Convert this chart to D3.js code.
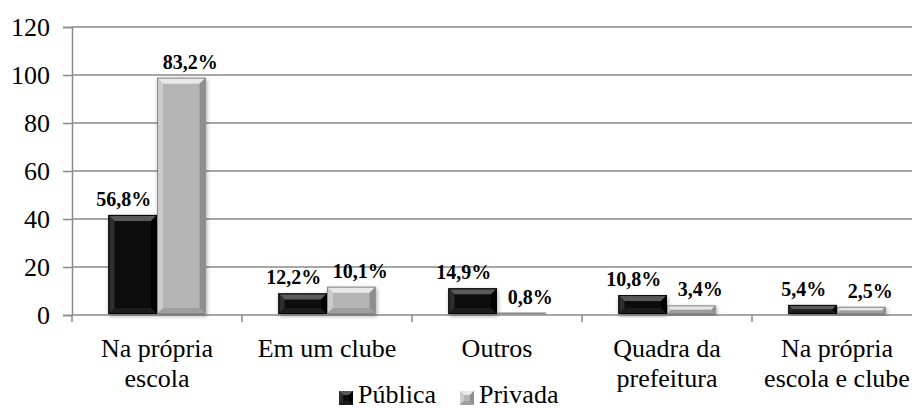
<!DOCTYPE html>
<html>
<head>
<meta charset="utf-8">
<script src="https://cdn.jsdelivr.net/npm/d3@7"></script>
<style>
  body { margin: 0; background: #fff; }
  svg text { font-family: "Liberation Serif", "Times New Roman", Tinos, "DejaVu Serif", serif; fill: #000; }
</style>
</head>
<body>
<div id="chart"></div>
<script>

var svgWidth = 912;
var svgHeight = 408;

// data
var categories = ["Na própria|escola", "Em um clube", "Outros", "Quadra da|prefeitura", "Na própria|escola e clube"];
var seriesNames = ["Pública", "Privada"];
var publicaValues = [41.7, 9.0, 11.1, 8.3, 4.2];
var privadaValues = [98.9, 11.8, 1.0, 4.0, 3.4];
var publicaLabels = ["56,8%", "12,2%", "14,9%", "10,8%", "5,4%"];
var privadaLabels = ["83,2%", "10,1%", "0,8%", "3,4%", "2,5%"];
var yTicks = [0, 20, 40, 60, 80, 100, 120];

var serif = '"Liberation Serif", "Times New Roman", Tinos, "DejaVu Serif", serif';

var margin = { top: 27, left: 72, plotRight: 922, zeroY: 315 };

var svg = d3.select("#chart")
  .append("svg")
  .attr("width", svgWidth)
  .attr("height", svgHeight)
  .attr("font-family", serif);

// bar shadow
var defs = svg.append("defs");
defs.append("filter")
  .attr("id", "shadow")
  .attr("x", "-20%").attr("y", "-20%")
  .attr("width", "140%").attr("height", "140%")
  .append("feDropShadow")
  .attr("dx", 1).attr("dy", 2)
  .attr("stdDeviation", 2)
  .attr("flood-color", "#000")
  .attr("flood-opacity", 0.35);

// colour sets for the bevel look: body, top, left, right, bottom
var styles = {
  "Pública": { body: "#0e0e0e", top: "#5a5a5a", left: "#2e2e2e", right: "#000000", bottom: "#1c1c1c", stroke: "#000" },
  "Privada": { body: "#b4b4b4", top: "#e8e8e8", left: "#cbcbcb", right: "#8e8e8e", bottom: "#9e9e9e", stroke: "#8a8a8a" }
};

var x0 = d3.scaleBand()
  .domain(categories)
  .range([margin.left, margin.plotRight])
  .padding(0);

var x1 = d3.scaleBand()
  .domain(seriesNames)
  .range([0, x0.bandwidth()])
  .paddingInner(0)
  .paddingOuter(0.75);

var y = d3.scaleLinear()
  .domain([0, 120])
  .range([margin.zeroY, margin.top]);

// gridlines
svg.append("g")
  .selectAll("line")
  .data(yTicks)
  .enter()
  .append("line")
  .attr("x1", margin.left)
  .attr("x2", margin.plotRight)
  .attr("y1", d => y(d))
  .attr("y2", d => y(d))
  .attr("stroke", "#8a8a8a")
  .attr("stroke-width", 1.5);

// y axis
var leftAxis = d3.axisLeft(y)
  .tickValues(yTicks)
  .tickSize(9)
  .tickPadding(13);

var yAxis = svg.append("g")
  .attr("transform", `translate(${margin.left}, 0)`)
  .call(leftAxis)
  .attr("font-family", serif)
  .attr("font-size", 26);

yAxis.select(".domain").attr("stroke", "#8a8a8a").attr("stroke-width", 1.5);
yAxis.selectAll(".tick line").attr("stroke", "#8a8a8a").attr("stroke-width", 1.5);
yAxis.selectAll(".tick text")
  .style("font-family", serif)
  .style("font-size", "26px")
  .attr("fill", "#000");

// category tick marks on the x axis
var boundaries = categories.map(c => x0(c)).concat([margin.plotRight]);
svg.append("g")
  .selectAll("line")
  .data(boundaries)
  .enter()
  .append("line")
  .attr("x1", d => d)
  .attr("x2", d => d)
  .attr("y1", margin.zeroY)
  .attr("y2", margin.zeroY + 7)
  .attr("stroke", "#8a8a8a")
  .attr("stroke-width", 1.5);

// bars
var rows = [];
categories.forEach(function(cat, i) {
  rows.push({ cat: cat, series: "Pública", value: publicaValues[i], label: publicaLabels[i] });
  rows.push({ cat: cat, series: "Privada", value: privadaValues[i], label: privadaLabels[i] });
});

var barGroup = svg.append("g");

rows.forEach(function(d) {
  var bx = x0(d.cat) + x1(d.series);
  var bw = x1.bandwidth();
  var by = y(d.value);
  var bh = margin.zeroY - 1 - by;
  var st = styles[d.series];
  var b = Math.min(6, bh / 2, bw / 2);

  var g = barGroup.append("g").attr("filter", "url(#shadow)");

  g.append("rect")
    .attr("x", bx)
    .attr("y", by)
    .attr("width", bw)
    .attr("height", bh)
    .attr("fill", st.body);

  // bevel faces
  var faces = [
    { fill: st.top, pts: [[bx, by], [bx + bw, by], [bx + bw - b, by + b], [bx + b, by + b]] },
    { fill: st.left, pts: [[bx, by], [bx + b, by + b], [bx + b, by + bh - b], [bx, by + bh]] },
    { fill: st.right, pts: [[bx + bw, by], [bx + bw, by + bh], [bx + bw - b, by + bh - b], [bx + bw - b, by + b]] },
    { fill: st.bottom, pts: [[bx, by + bh], [bx + b, by + bh - b], [bx + bw - b, by + bh - b], [bx + bw, by + bh]] }
  ];

  g.selectAll("polygon")
    .data(faces)
    .enter()
    .append("polygon")
    .attr("points", f => f.pts.map(p => p.join(",")).join(" "))
    .attr("fill", f => f.fill);

  g.append("rect")
    .attr("x", bx + 0.5)
    .attr("y", by + 0.5)
    .attr("width", bw - 1)
    .attr("height", Math.max(bh - 1, 0.5))
    .attr("fill", "none")
    .attr("stroke", st.stroke)
    .attr("stroke-width", 1);
});

// data labels, nudged apart like in the original
var labelShift = { "Pública": -9, "Privada": 9 };
svg.append("g")
  .selectAll("text")
  .data(rows)
  .enter()
  .append("text")
  .attr("x", d => x0(d.cat) + x1(d.series) + x1.bandwidth() / 2 + labelShift[d.series])
  .attr("y", d => y(d.value) - 9)
  .attr("text-anchor", "middle")
  .style("font-family", serif)
  .style("font-size", "20px")
  .style("font-weight", "bold")
  .text(d => d.label);

// category labels (two lines where needed)
var catLabels = svg.append("g")
  .selectAll("text")
  .data(categories)
  .enter()
  .append("text")
  .attr("x", d => x0(d) + x0.bandwidth() / 2)
  .attr("y", 357)
  .attr("text-anchor", "middle")
  .style("font-family", serif)
  .style("font-size", "26px");

catLabels.each(function(d) {
  var parts = d.split("|");
  var t = d3.select(this);
  parts.forEach(function(p, i) {
    t.append("tspan")
      .attr("x", x0(d) + x0.bandwidth() / 2)
      .attr("dy", i === 0 ? 0 : 30)
      .text(p);
  });
});

// legend
var legendX = [339, 460];
var legend = svg.append("g");

seriesNames.forEach(function(name, i) {
  var st = styles[name];
  var lx = legendX[i];
  var ly = 391;
  var s = 14;
  var b = 4;
  legend.append("rect")
    .attr("x", lx).attr("y", ly)
    .attr("width", s).attr("height", s)
    .attr("fill", st.body);
  var faces = [
    { fill: st.top, pts: [[lx, ly], [lx + s, ly], [lx + s - b, ly + b], [lx + b, ly + b]] },
    { fill: st.left, pts: [[lx, ly], [lx + b, ly + b], [lx + b, ly + s - b], [lx, ly + s]] },
    { fill: st.right, pts: [[lx + s, ly], [lx + s, ly + s], [lx + s - b, ly + s - b], [lx + s - b, ly + b]] },
    { fill: st.bottom, pts: [[lx, ly + s], [lx + b, ly + s - b], [lx + s - b, ly + s - b], [lx + s, ly + s]] }
  ];
  faces.forEach(function(f) {
    legend.append("polygon")
      .attr("points", f.pts.map(p => p.join(",")).join(" "))
      .attr("fill", f.fill);
  });
  legend.append("text")
    .attr("x", lx + s + 5)
    .attr("y", 403)
    .style("font-family", serif)
    .style("font-size", "26px")
    .text(name);
});

</script>
</body>
</html>
